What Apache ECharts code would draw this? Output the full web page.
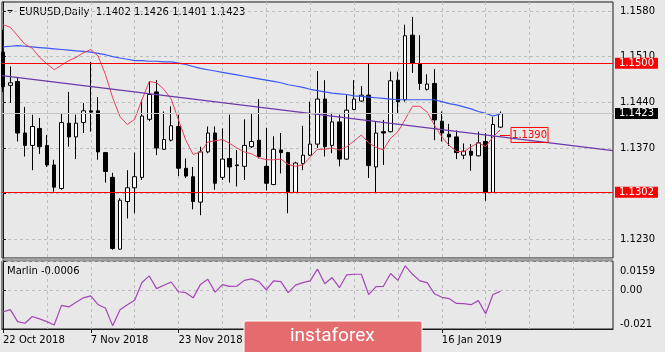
<!DOCTYPE html>
<html>
<head>
<meta charset="utf-8">
<title>EURUSD Daily</title>
<script src="https://cdn.jsdelivr.net/npm/echarts@6/dist/echarts.min.js"></script>
<style>
  html, body { margin: 0; padding: 0; background: #e8e8e8; }
  #chart { width: 665px; height: 352px; }
</style>
</head>
<body>
<div id="chart"></div>
<script>
// daily bars 22 Oct 2018 .. 28 Jan 2019, [open, close, low, high]
const candles = [
  [1.1517, 1.1464, 1.1456, 1.1551], [1.1466, 1.1470, 1.1439, 1.1495], [1.1472, 1.1393, 1.1380, 1.1479],
  [1.1393, 1.1374, 1.1357, 1.1433], [1.1374, 1.1403, 1.1336, 1.1421], [1.1400, 1.1372, 1.1361, 1.1416],
  [1.1374, 1.1344, 1.1341, 1.1390], [1.1344, 1.1310, 1.1303, 1.1352], [1.1308, 1.1409, 1.1306, 1.1423],
  [1.1408, 1.1387, 1.1372, 1.1456], [1.1387, 1.1408, 1.1353, 1.1421], [1.1409, 1.1427, 1.1393, 1.1439],
  [1.1427, 1.1425, 1.1395, 1.1502], [1.1427, 1.1364, 1.1352, 1.1448], [1.1363, 1.1334, 1.1317, 1.1364],
  [1.1325, 1.1216, 1.1214, 1.1332], [1.1215, 1.1290, 1.1214, 1.1293], [1.1288, 1.1309, 1.1262, 1.1336],
  [1.1309, 1.1326, 1.1270, 1.1363], [1.1325, 1.1419, 1.1321, 1.1444], [1.1414, 1.1452, 1.1411, 1.1472],
  [1.1456, 1.1370, 1.1359, 1.1474], [1.1368, 1.1383, 1.1367, 1.1426], [1.1382, 1.1404, 1.1380, 1.1434],
  [1.1403, 1.1339, 1.1327, 1.1421], [1.1339, 1.1327, 1.1324, 1.1354], [1.1326, 1.1288, 1.1276, 1.1341],
  [1.1287, 1.1364, 1.1267, 1.1372], [1.1364, 1.1393, 1.1362, 1.1403], [1.1393, 1.1316, 1.1306, 1.1403],
  [1.1325, 1.1353, 1.1321, 1.1400], [1.1354, 1.1341, 1.1317, 1.1421], [1.1344, 1.1343, 1.1311, 1.1367],
  [1.1342, 1.1374, 1.1321, 1.1414], [1.1372, 1.1380, 1.1370, 1.1423], [1.1382, 1.1357, 1.1354, 1.1445],
  [1.1342, 1.1316, 1.1305, 1.1401], [1.1314, 1.1368, 1.1313, 1.1388], [1.1367, 1.1363, 1.1331, 1.1393],
  [1.1363, 1.1303, 1.1270, 1.1364], [1.1302, 1.1347, 1.1301, 1.1349], [1.1346, 1.1359, 1.1336, 1.1404],
  [1.1359, 1.1376, 1.1358, 1.1441], [1.1376, 1.1445, 1.1370, 1.1488], [1.1445, 1.1372, 1.1357, 1.1474],
  [1.1374, 1.1410, 1.1362, 1.1424], [1.1410, 1.1353, 1.1342, 1.1421], [1.1353, 1.1428, 1.1352, 1.1451],
  [1.1429, 1.1445, 1.1428, 1.1474], [1.1442, 1.1451, 1.1441, 1.1465], [1.1451, 1.1343, 1.1324, 1.1499],
  [1.1341, 1.1393, 1.1302, 1.1410], [1.1395, 1.1393, 1.1344, 1.1413], [1.1395, 1.1473, 1.1394, 1.1487],
  [1.1474, 1.1441, 1.1423, 1.1487], [1.1444, 1.1542, 1.1441, 1.1559], [1.1543, 1.1500, 1.1485, 1.1571],
  [1.1499, 1.1469, 1.1459, 1.1543], [1.1460, 1.1468, 1.1458, 1.1483], [1.1469, 1.1413, 1.1382, 1.1491],
  [1.1411, 1.1393, 1.1380, 1.1426], [1.1391, 1.1387, 1.1373, 1.1407], [1.1387, 1.1363, 1.1353, 1.1397],
  [1.1359, 1.1365, 1.1353, 1.1377], [1.1365, 1.1359, 1.1335, 1.1376], [1.1358, 1.1378, 1.1357, 1.1395],
  [1.1380, 1.1302, 1.1289, 1.1393], [1.1302, 1.1406, 1.1301, 1.1418], [1.1402, 1.1423, 1.1401, 1.1426]
]

// blue moving average
const maSlow = [
  1.1525, 1.1526, 1.1527, 1.1526, 1.1525, 1.1524, 1.1523, 1.1522, 1.1521, 1.1520,
  1.1519, 1.1518, 1.1517, 1.1515, 1.1513, 1.1510, 1.1508, 1.1506, 1.1504, 1.1504,
  1.1503, 1.1503, 1.1502, 1.1502, 1.1500, 1.1498, 1.1495, 1.1492, 1.1490, 1.1488,
  1.1486, 1.1484, 1.1482, 1.1480, 1.1478, 1.1476, 1.1474, 1.1472, 1.1470, 1.1467,
  1.1465, 1.1463, 1.1460, 1.1458, 1.1456, 1.1454, 1.1453, 1.1452, 1.1450, 1.1449,
  1.1448, 1.1447, 1.1446, 1.1445, 1.1444, 1.1444, 1.1444, 1.1444, 1.1444, 1.1444,
  1.1441, 1.1438, 1.1436, 1.1433, 1.1430, 1.1426, 1.1423, 1.1419, 1.1422
]

// red fast line
const maFast = [
  1.1559, 1.1555, 1.1542, 1.1529, 1.1523, 1.1509, 1.1499, 1.1490, 1.1497, 1.1504,
  1.1509, 1.1516, 1.1521, 1.1511, 1.1483, 1.1447, 1.1418, 1.1406, 1.1414, 1.1444,
  1.1472, 1.1470, 1.1460, 1.1445, 1.1413, 1.1382, 1.1360, 1.1364, 1.1379, 1.1381,
  1.1383, 1.1377, 1.1370, 1.1364, 1.1361, 1.1355, 1.1352, 1.1352, 1.1353, 1.1345,
  1.1342, 1.1344, 1.1356, 1.1368, 1.1368, 1.1370, 1.1367, 1.1372, 1.1381, 1.1390,
  1.1378, 1.1371, 1.1367, 1.1385, 1.1395, 1.1414, 1.1434, 1.1434, 1.1425, 1.1405,
  1.1387, 1.1374, 1.1365, 1.1364, 1.1372, 1.1378, 1.1372, 1.1387, 1.1398
]

// Marlin oscillator
const marlin = [
  -0.0118, -0.0105, -0.0170, -0.0179, -0.0142, -0.0155, -0.0170, -0.0188, -0.0082, -0.0090,
  -0.0065, -0.0041, -0.0030, -0.0078, -0.0096, -0.0193, -0.0105, -0.0078, -0.0054, 0.0042,
  0.0078, 0.0009, 0.0027, 0.0045, -0.0008, -0.0013, -0.0041, 0.0032, 0.0060, -0.0010,
  0.0031, 0.0021, 0.0023, 0.0054, 0.0062, 0.0047, 0.0003, 0.0051, 0.0047, -0.0013,
  0.0028, 0.0042, 0.0051, 0.0115, 0.0036, 0.0069, 0.0014, 0.0084, 0.0087, 0.0087,
  -0.0023, 0.0020, 0.0021, 0.0091, 0.0054, 0.0133, 0.0087, 0.0051, 0.0042, -0.0019,
  -0.0038, -0.0045, -0.0071, -0.0072, -0.0078, -0.0056, -0.0127, -0.0023, -0.0006
]

// trend line ends [bar index, price]
const trendLine = [[-0.137, 1.1481], [83.41, 1.1366]]
const levels = [1.1500, 1.1302]
const calloutPrice = 1.1390
const calloutBars = [67.96, 69.33]

const priceTicks = [1.1230, 1.1300, 1.1370, 1.1440, 1.1510, 1.1580]
const marlinTicks = [-0.021, 0, 0.0159]
const dateTickBars = [0, 12, 24, 36, 48, 60]
const dateTickLabels = ['22 Oct 2018', '7 Nov 2018', '23 Nov 2018', '11 Dec 2018', '28 Dec 2018', '16 Jan 2019']
const gridBars = [6, 12, 18, 24, 30, 36, 42, 48, 54, 60, 66, 72, 78]

const FONT = 'DejaVu Sans'
const X_MIN = -0.137
const X_MAX = 83.41

const last = candles[candles.length - 1]
const header = 'EURUSD,Daily  ' + [last[0], last[3], last[2], last[1]].map(v => v.toFixed(4)).join(' ')
const marlinText = 'Marlin ' + marlin[marlin.length - 1].toFixed(4)

const chart = echarts.init(document.getElementById('chart'))

const dashed = { show: true, lineStyle: { color: '#bcbcbc', type: [3, 3], width: 1 } }

const boxLabel = (bg) => ({
  show: true,
  position: 'end',
  distance: 2,
  formatter: (p) => Number(p.value).toFixed(4),
  backgroundColor: bg,
  color: '#ffffff',
  fontFamily: FONT,
  fontSize: 10,
  lineHeight: 10,
  padding: [1, 4, 0, 4]
})

const option = {
  animation: false,
  backgroundColor: '#e8e8e8',
  grid: [
    { left: 2, top: 2, width: 611, height: 256, show: true, borderColor: '#1a1a1a', borderWidth: 1, backgroundColor: '#e8e8e8' },
    { left: 2, top: 261, width: 611, height: 68, show: true, borderColor: '#1a1a1a', borderWidth: 1, backgroundColor: '#e8e8e8' }
  ],
  xAxis: [
    {
      type: 'value', gridIndex: 0, min: X_MIN, max: X_MAX,
      axisLine: { show: false },
      axisTick: { show: false, customValues: gridBars },
      axisLabel: { show: false },
      splitLine: dashed
    },
    {
      type: 'value', gridIndex: 1, min: X_MIN, max: X_MAX,
      axisLine: { show: false },
      axisTick: { show: false, customValues: gridBars },
      axisLabel: { show: false },
      splitLine: dashed
    },
    {
      type: 'value', gridIndex: 1, min: X_MIN, max: X_MAX, position: 'bottom',
      axisLine: { show: true, lineStyle: { color: '#1a1a1a' } },
      axisTick: { show: true, customValues: dateTickBars, length: 4, lineStyle: { color: '#1a1a1a' } },
      axisLabel: {
        customValues: dateTickBars,
        formatter: (v) => dateTickLabels[dateTickBars.indexOf(Math.round(v))] || '',
        align: 'left',
        margin: 6,
        color: '#000',
        fontFamily: FONT,
        fontSize: 10
      },
      splitLine: { show: false }
    }
  ],
  yAxis: [
    {
      type: 'value', gridIndex: 0, position: 'right',
      min: 1.12014, max: 1.15938,
      axisLine: { show: true, lineStyle: { color: '#1a1a1a' } },
      axisTick: { show: true, customValues: priceTicks, length: 3, lineStyle: { color: '#1a1a1a' } },
      axisLabel: {
        customValues: priceTicks,
        formatter: (v) => v.toFixed(4),
        margin: 7,
        color: '#000',
        fontFamily: FONT,
        fontSize: 10
      },
      splitLine: dashed
    },
    {
      type: 'value', gridIndex: 1, position: 'right',
      min: -0.021, max: 0.0159,
      axisLine: { show: true, lineStyle: { color: '#1a1a1a' } },
      axisTick: { show: true, customValues: marlinTicks, length: 3, lineStyle: { color: '#1a1a1a' } },
      axisLabel: {
        customValues: marlinTicks,
        formatter: (v) => (v === 0 ? '0.00' : v > 0 ? '{top|' + v + '}' : String(v)),
        rich: { top: { padding: [5, 0, 0, 0], fontFamily: FONT, fontSize: 10, color: '#000' } },
        verticalAlignMinLabel: 'bottom',
        verticalAlignMaxLabel: 'top',
        margin: 7,
        color: '#000',
        fontFamily: FONT,
        fontSize: 10
      },
      splitLine: dashed
    }
  ],
  series: [
    {
      name: 'EURUSD',
      type: 'candlestick',
      xAxisIndex: 0,
      yAxisIndex: 0,
      barWidth: 4,
      data: candles.map((c, i) => [i, c[0], c[1], c[2], c[3]]),
      itemStyle: {
        color: '#ffffff',
        color0: '#000000',
        borderColor: '#000000',
        borderColor0: '#000000',
        borderWidth: 1
      }
    },
    {
      name: 'MA slow',
      type: 'line',
      xAxisIndex: 0,
      yAxisIndex: 0,
      showSymbol: false,
      data: maSlow.map((v, i) => [i, v]),
      lineStyle: { color: '#3a58f5', width: 1.2 }
    },
    {
      name: 'MA fast',
      type: 'line',
      xAxisIndex: 0,
      yAxisIndex: 0,
      showSymbol: false,
      data: maFast.map((v, i) => [i, v]),
      lineStyle: { color: '#e8405c', width: 1 }
    },
    {
      name: 'Trend',
      type: 'line',
      xAxisIndex: 0,
      yAxisIndex: 0,
      showSymbol: false,
      clip: false,
      data: trendLine,
      lineStyle: { color: '#6c3aa8', width: 1.2 },
      markLine: {
        silent: true,
        symbol: ['none', 'none'],
        precision: 4,
        animation: false,
        data: [
          { yAxis: levels[0], lineStyle: { color: '#ff0000', width: 1, type: 'solid' }, label: boxLabel('#ff0000') },
          { yAxis: levels[1], lineStyle: { color: '#ff0000', width: 1, type: 'solid' }, label: boxLabel('#ff0000') },
          { yAxis: last[1], lineStyle: { color: '#c4c4c4', width: 1, type: 'solid' }, label: boxLabel('#000000') },
          [
            {
              coord: [calloutBars[0], calloutPrice],
              lineStyle: { color: '#ff0000', width: 1, type: 'solid' },
              label: {
                show: true,
                position: 'end',
                distance: 1,
                formatter: calloutPrice.toFixed(4),
                color: '#ff0000',
                borderColor: '#ff0000',
                borderWidth: 1,
                padding: [3, 1, 2, 1],
                fontFamily: FONT,
                fontSize: 10
              }
            },
            { coord: [calloutBars[1], calloutPrice] }
          ]
        ]
      }
    },
    {
      name: 'Marlin',
      type: 'line',
      xAxisIndex: 1,
      yAxisIndex: 1,
      showSymbol: false,
      data: marlin.map((v, i) => [i, v]),
      lineStyle: { color: '#a545b8', width: 1.2 }
    }
  ],
  graphic: [
    { type: 'polygon', shape: { points: [[7, 10], [13, 10], [10, 13]] }, style: { fill: '#000' } },
    { type: 'text', x: 19, y: 12, style: { text: header, font: '10px "DejaVu Sans"', fill: '#000', verticalAlign: 'middle' } },
    { type: 'text', x: 7, y: 271, style: { text: marlinText, font: '10px "DejaVu Sans"', fill: '#000', verticalAlign: 'middle' } },
    // pane separator
    { type: 'rect', shape: { x: 2, y: 258.5, width: 611, height: 2 }, style: { fill: '#a8a8a8' } },
    // watermark banner
    {
      type: 'rect', z: 100,
      shape: { x: 244, y: 321, width: 178, height: 40, r: 2 },
      style: { fill: '#e46b6e', stroke: '#ffffff', lineWidth: 1 }
    },
    {
      type: 'text', z: 101, x: 290, y: 336,
      style: { text: 'instaforex', font: '19px Roboto', fill: '#ffffff', verticalAlign: 'middle' }
    }
  ]
}

chart.setOption(option)
</script>
</body>
</html>
